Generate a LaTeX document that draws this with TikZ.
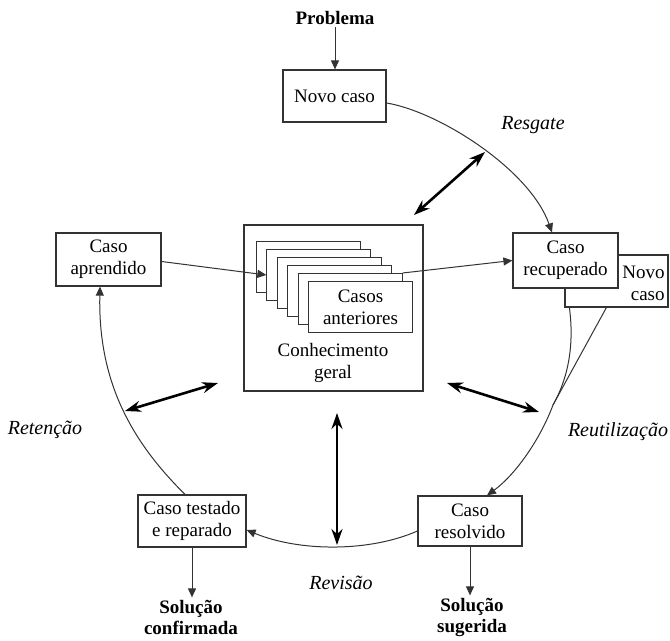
\documentclass[tikz,border=0pt]{standalone}
\usepackage{fontspec}
\setmainfont{Liberation Serif}
\usetikzlibrary{arrows.meta,calc}
\begin{document}
\begin{tikzpicture}[x=0.5pt,y=-0.5pt,
 txt/.style={font=\fontsize{9.5}{11}\selectfont,align=center,inner sep=0pt},
 box/.style={txt,draw=black!80,line width=0.6pt,fill=white},
 lbl/.style={font=\fontsize{10}{12}\selectfont\itshape,inner sep=0pt},
 bold/.style={font=\fontsize{9.5}{10.5}\selectfont\bfseries,align=center,inner sep=1pt},
 thin/.style={draw=black!80,line width=0.5pt},
 tarrow/.style={thin,-{Triangle[length=4.5pt,width=4pt]}},
 dbl/.style={line width=1.3pt,{Stealth[length=8pt,width=5.5pt]}-{Stealth[length=8pt,width=5.5pt]}},
 card/.style={draw=black!80,line width=0.5pt,fill=white,inner sep=0pt,minimum width=52pt,minimum height=25.5pt,anchor=north west}]
\useasboundingbox (0,0) rectangle (670,641);

% top
\node[bold] (prob) at (335,18) {Problema};
\node[box,minimum width=51.5pt,minimum height=26pt] (nc) at (334.5,96) {Novo caso};

% knowledge box
\node[draw=black!80,line width=0.6pt,minimum width=89.5pt,minimum height=83pt,inner sep=0pt] (cg) at (333.5,308) {};
\foreach \i in {0,...,5}
  \node[card] (card\i) at (256+10.4*\i,241+8*\i) {};
\node[txt] (ant) at (card5.center) {Casos\\anteriores};
\node[txt] (cgt) at (333,363) {Conhecimento\\geral};

% boxes
\node[box,minimum width=51.5pt,minimum height=26pt] (nc2) at (616.5,281) {};
\node[txt,align=right,anchor=east] (nc2t) at (665,283) {Novo\\caso};
\node[box,minimum width=52.5pt,minimum height=27.5pt] (cr) at (565.5,260.5) {Caso\\recuperado};
\node[box,minimum width=52.5pt,minimum height=26.5pt] (ca) at (108.5,259.5) {Caso\\aprendido};
\node[box,minimum width=52pt,minimum height=25pt] (cres) at (470,521) {Caso\\resolvido};
\node[box,minimum width=54pt,minimum height=26pt] (ct) at (192,521) {Caso testado\\e reparado};

% outputs
\node[bold] (ss) at (472,617) {Solução\\sugerida};
\node[bold] (sc) at (191,617) {Solução\\confirmada};

% labels
\node[lbl] (lres) at (533,125) {Resgate};
\node[lbl] (lreu) at (618,432) {Reutilização};
\node[lbl] (lret) at (45,430) {Retenção};
\node[lbl] (lrev) at (341,583) {Revisão};

% coordinates
\coordinate (r1) at (485,152);
\coordinate (g1) at (414,215);
\coordinate (m2) at (553,405);
\coordinate (r2) at (539,412);
\coordinate (g2) at (447,383);
\coordinate (r3) at (125,411);
\coordinate (g3) at (218,383);
\coordinate (v1) at (337,413);
\coordinate (v2) at (337,545);

% straight arrows
\draw[tarrow] (prob.south) -- (prob.south |- nc.north);
\draw[tarrow] (cres.south) -- (cres.south |- ss.north);
\draw[tarrow] (ct.south) -- (ct.south |- sc.north);
\draw[tarrow] ($(ca.east)+(0,2)$) -- (card1.west);
\draw[tarrow] (card4.north east) -- (cr.west);

% cycle arcs
\draw[tarrow] ($(nc.east)+(0,7)$) .. controls (440,112) and (530,170) .. ($(cr.north)+(-13.5,0)$);
\draw[thin] ($(nc2.south west)+(5,0)$) .. controls (575,350) and (566,382) .. (m2);
\draw[thin] ($(nc2.south west)+(42,0)$) -- (m2);
\draw[tarrow] (m2) .. controls (540,440) and (515,475) .. ($(cres.north)+(17,0)$);
\draw[tarrow] ($(cres.west)+(0,10)$) .. controls (370,552) and (300,552) .. ($(ct.east)+(0,9)$);
\draw[tarrow] ($(ct.north)+(-7,0)$) .. controls (130,440) and (98,380) .. ($(ca.south)+(-8.5,0)$);

% double arrows
\draw[dbl] (r1) -- (g1);
\draw[dbl] (g2) -- (r2);
\draw[dbl] (r3) -- (g3);
\draw[dbl] (v1) -- (v2);
\end{tikzpicture}
\end{document}
